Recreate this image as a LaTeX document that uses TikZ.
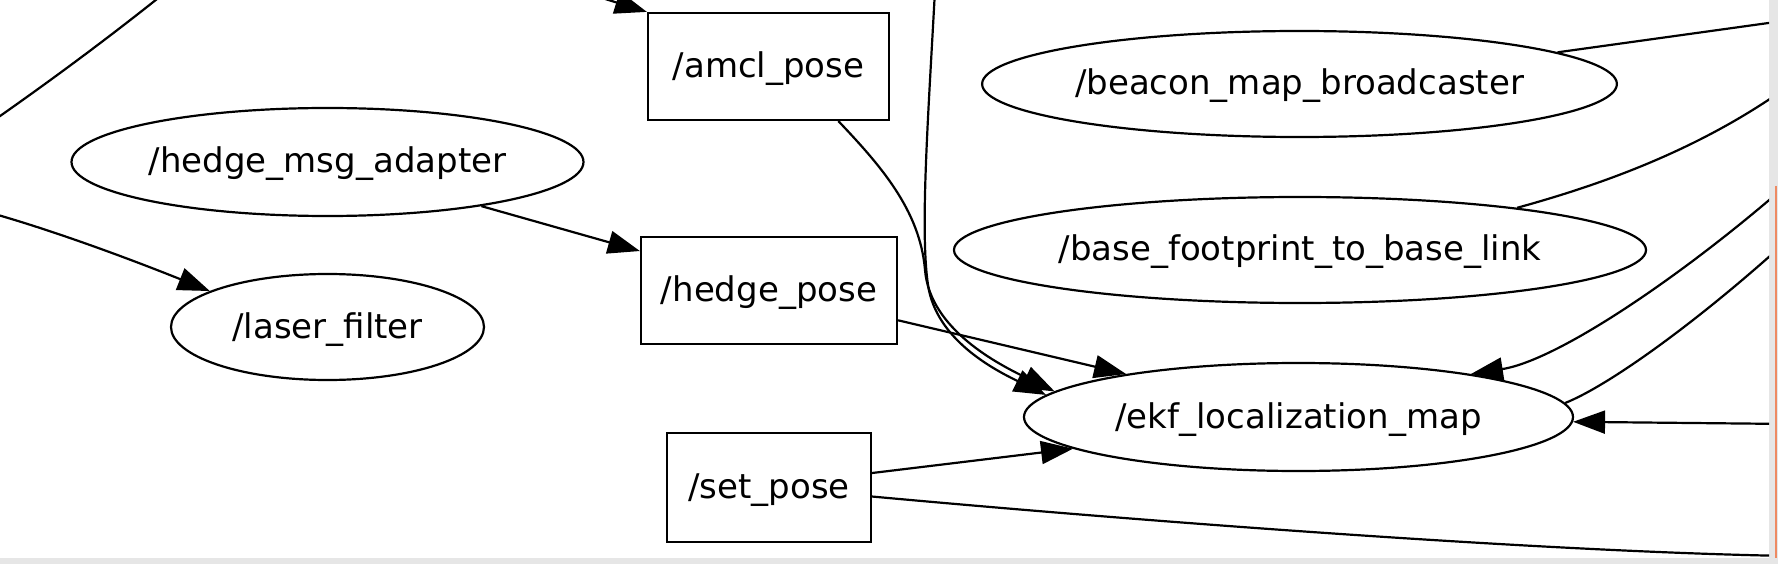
\documentclass[tikz,border=0pt]{standalone}
\usepackage{fontspec}
\setmainfont{DejaVu Sans}
\usetikzlibrary{shapes.geometric,arrows.meta}
\definecolor{panelgray}{RGB}{230,230,230}
\definecolor{edgeorange}{RGB}{238,138,98}
\begin{document}
\begin{tikzpicture}[x=1pt,y=-1pt,
  every node/.style={font=\fontsize{34}{40}\selectfont, text height=28pt, text depth=6pt, inner sep=0pt},
  topicbox/.style={draw, line width=2.2pt, rectangle, minimum height=107pt},
  nodeell/.style={draw, line width=2.2pt, ellipse},
  edgeline/.style={line width=2.2pt},
  arr/.style={edgeline, -{Triangle[length=32pt,width=23pt]}},
]
\useasboundingbox (0,0) rectangle (1778,564);
\fill[panelgray] (0,0) rectangle (1778,564);
\fill[white] (0,0) rectangle (1769,558);
\draw[edgeorange, line width=2pt] (1776,186) -- (1776,558);

\begin{scope}
\clip (0,0) rectangle (1769,558);
% nodes
\node[topicbox, minimum width=241pt] (amcl) at (768.5,66.5) {/amcl\_pose};
\node[topicbox, minimum width=256pt] (hpose) at (769,290.5) {/hedge\_pose};
\node[topicbox, minimum width=204pt, minimum height=109pt] (setpose) at (769,487.5) {/set\_pose};
\node[nodeell, minimum width=512pt, minimum height=108pt] (hma) at (327.5,162) {/hedge\_msg\_adapter};
\node[nodeell, minimum width=313pt, minimum height=106pt] (laser) at (327.5,327) {/laser\_filter};
\node[nodeell, minimum width=629pt, minimum height=106pt] (beacon) at (1299.5,84) {/beacon\_map\_broadcaster};
\node[nodeell, minimum width=692pt, minimum height=106pt] (base) at (1300,250) {/base\_footprint\_to\_base\_link};
\node[nodeell, minimum width=549pt, minimum height=108pt] (ekf) at (1298.5,417) {/ekf\_localization\_map};

% free ends
\coordinate (a0) at (-20,130);
\coordinate (a1) at (172,-13);
\coordinate (b0) at (-20,210);
\coordinate (c0) at (560,-15);
\coordinate (f0) at (935,-10);
\coordinate (i1) at (1790,556);
\coordinate (j1) at (1790,20);
\coordinate (k1) at (1790,85);
\coordinate (m0) at (1790,182);
\coordinate (n1) at (1790,238);
\coordinate (h0) at (1790,424);

% connectors
\draw[edgeline] (a0) .. controls (45,85) and (110,37) .. (a1);
\draw[arr] (b0) .. controls (40,226) and (120,255) .. (laser.163.8);
\draw[arr] (c0) -- (amcl.north west);
\draw[arr] (hma.-16.1) -- (hpose.163.7);
\draw[arr] (amcl.-38.4) .. controls (880,165) and (920,210) .. (925,270) .. controls (930,330) and (1000,365) .. (ekf.174);
\draw[arr] (f0) .. controls (928,120) and (920,230) .. (928,285) .. controls (936,340) and (995,370) .. (ekf.175.5);
\draw[arr] (hpose.-13.8) -- (ekf.166.3);
\draw[arr] (setpose.8.1) -- (ekf.-172.7);
\draw[edgeline] (setpose.-5.3) .. controls (1150,522) and (1550,552) .. (i1);
\draw[edgeline] (beacon.7.6) -- (j1);
\draw[edgeline] (base.11.1) .. controls (1600,185) and (1700,150) .. (k1);
\draw[arr] (m0) .. controls (1690,270) and (1560,360) .. (ekf.14.8);
\draw[edgeline] (ekf.3.2) .. controls (1610,385) and (1700,320) .. (n1);
\draw[arr] (h0) -- (ekf.-1.3);
\end{scope}
\end{tikzpicture}
\end{document}
